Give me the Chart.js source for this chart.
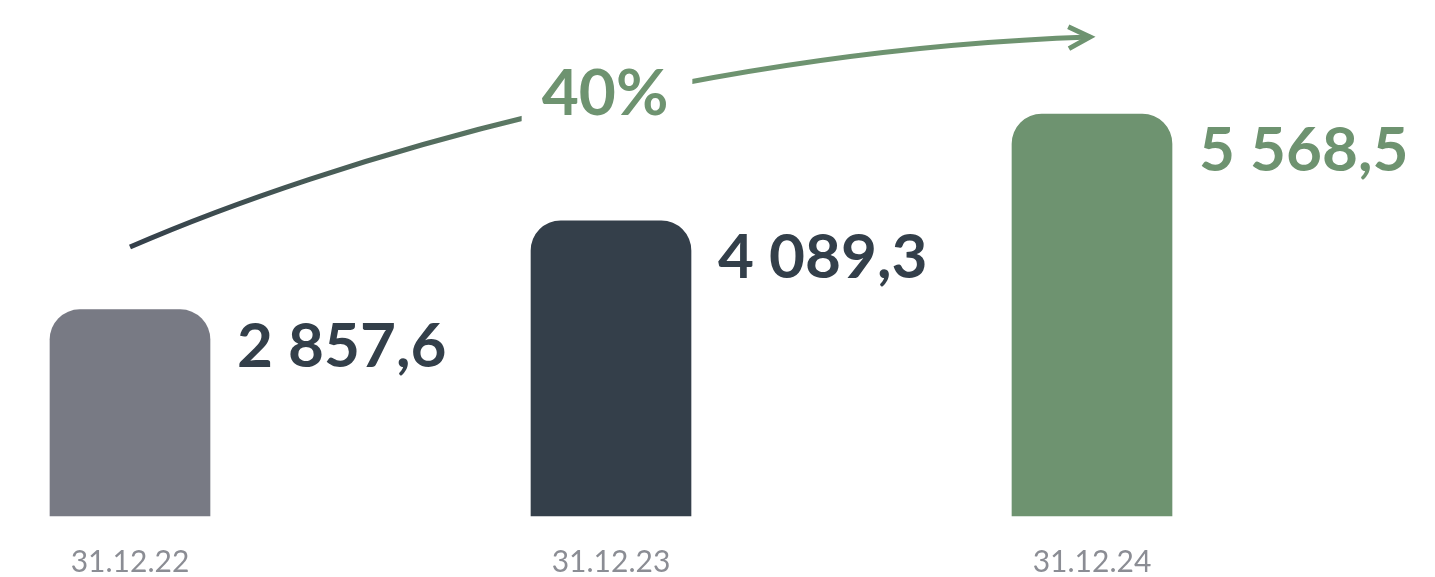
<!DOCTYPE html>
<html>
<head>
<meta charset="utf-8">
<script src="https://cdn.jsdelivr.net/npm/chart.js@4/dist/chart.umd.min.js"></script>
<style>
  html, body { margin: 0; padding: 0; background: #fff; }
  #wrap { width: 1435px; height: 577px; }
</style>
</head>
<body>
<div id="wrap"><canvas id="c"></canvas></div>
<script>
// ── Data ────────────────────────────────────────────────────────────────────
const dates   = ['31.12.22', '31.12.23', '31.12.24'];
const values  = [2857.6, 4089.3, 5568.5];
const growth  = '40%';

const BAR_COLORS  = ['#787a84', '#343f4a', '#6e9370'];
const TEXT_COLORS = ['#333f4a', '#333f4a', '#6e9370'];
const DARK  = '#343f4a';
const GREEN = '#6e9370';
const FONT  = 'Lato, "Noto Sans", sans-serif';

function fmt(v) {
  const [i, d] = v.toFixed(1).split('.');
  return i.replace(/\B(?=(\d{3})+(?!\d))/g, ' ') + ',' + d;
}

// ── Value labels to the right of each bar ───────────────────────────────────
const valueLabels = {
  id: 'valueLabels',
  afterDatasetsDraw(chart) {
    const ctx = chart.ctx;
    const meta = chart.getDatasetMeta(0);
    ctx.save();
    ctx.font = 'bold 62px ' + FONT;
    ctx.textAlign = 'left';
    ctx.textBaseline = 'alphabetic';
    meta.data.forEach((bar, i) => {
      ctx.fillStyle = TEXT_COLORS[i];
      ctx.fillText(fmt(values[i]), bar.x + bar.width / 2 + 27, bar.y + 57);
    });
    ctx.restore();
  }
};

// ── Growth arrow ────────────────────────────────────────────────────────────
const growthArrow = {
  id: 'growthArrow',
  afterDatasetsDraw(chart) {
    const ctx = chart.ctx;
    const xs = chart.scales.x;
    const top = chart.chartArea.top;
    const x0 = xs.getPixelForValue(0), x2 = xs.getPixelForValue(2);
    const p0 = [x0, top + 133], p3 = [x2 - 2, top - 77];
    const p1 = [x0 + 200, top + 46], p2 = [x0 + 570, top - 64];

    // text
    ctx.save();
    ctx.font = 'bold 64px ' + FONT;
    const tw = ctx.measureText(growth).width;
    const tx = (x0 + x2) / 2 - 6, ty = top + 1;
    ctx.fillStyle = GREEN;
    ctx.textAlign = 'center';
    ctx.textBaseline = 'alphabetic';
    ctx.fillText(growth, tx, ty);

    // curve with a gap round the text
    ctx.beginPath();
    ctx.rect(0, 0, chart.width, chart.height);
    ctx.rect(tx - tw / 2 - 20, ty - 70, tw + 44, 80);
    ctx.clip('evenodd');
    const g = ctx.createLinearGradient(p0[0], 0, tx + tw / 2 + 20, 0);
    g.addColorStop(0, DARK);
    g.addColorStop(1, GREEN);
    ctx.strokeStyle = g;
    ctx.lineWidth = 5;
    ctx.lineCap = 'butt';
    ctx.beginPath();
    ctx.moveTo(...p0);
    ctx.bezierCurveTo(...p1, ...p2, ...p3);
    ctx.stroke();
    ctx.restore();

    // head
    const ang = Math.atan2(p3[1] - p2[1], p3[0] - p2[0]);
    const len = 24, spread = 0.47;
    ctx.save();
    ctx.strokeStyle = GREEN;
    ctx.lineWidth = 5;
    ctx.lineJoin = 'miter';
    ctx.beginPath();
    ctx.moveTo(p3[0] - len * Math.cos(ang - spread), p3[1] - len * Math.sin(ang - spread));
    ctx.lineTo(p3[0], p3[1]);
    ctx.lineTo(p3[0] - len * Math.cos(ang + spread), p3[1] - len * Math.sin(ang + spread));
    ctx.stroke();
    ctx.restore();
  }
};

// ── Chart ───────────────────────────────────────────────────────────────────
new Chart(document.getElementById('c'), {
  type: 'bar',
  data: {
    labels: dates,
    datasets: [{
      data: values,
      backgroundColor: BAR_COLORS,
      barThickness: 160,
      borderRadius: { topLeft: 30, topRight: 30, bottomLeft: 0, bottomRight: 0 },
      borderSkipped: 'bottom',
      clip: false
    }]
  },
  options: {
    responsive: true,
    maintainAspectRatio: false,
    animation: false,
    layout: { padding: { left: 130, right: 343, top: 114, bottom: 0 } },
    plugins: { legend: { display: false }, tooltip: { enabled: false } },
    scales: {
      x: {
        offset: false,
        grid: { display: false },
        border: { display: false },
        ticks: { color: '#8b8d94', font: { family: FONT, size: 30, weight: '400' }, padding: 20 },
        afterFit(s) { s.height = 61; }
      },
      y: { display: false, min: 0, max: Math.max(...values) }
    }
  },
  plugins: [valueLabels, growthArrow]
});
</script>
</body>
</html>
